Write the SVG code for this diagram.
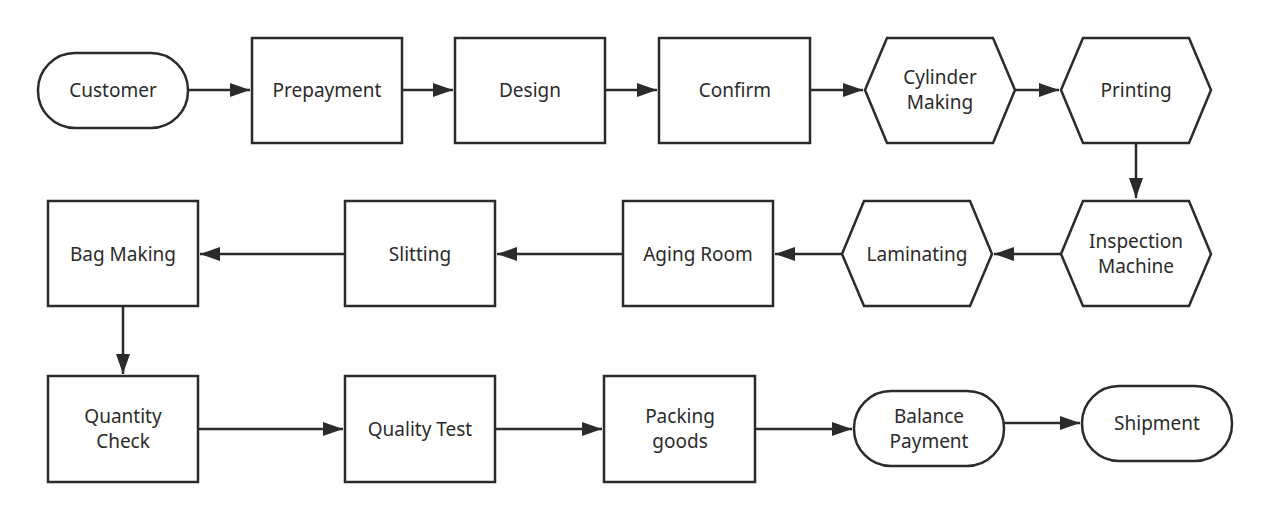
<svg xmlns="http://www.w3.org/2000/svg" width="1269" height="519" viewBox="0 0 1269 519">
<style>
.s{fill:#fff;stroke:#2b2b2b;stroke-width:2.5}
.t{font-family:"Noto Sans","Open Sans",sans-serif;font-size:19px;fill:#2b2b2b;text-anchor:middle}
.c{stroke:#2b2b2b;stroke-width:2.5;fill:none;marker-end:url(#a)}
</style>
<defs><marker id="a" viewBox="0 0 10 10" refX="10" refY="5" markerWidth="7" markerHeight="6" orient="auto" markerUnits="userSpaceOnUse" preserveAspectRatio="none"><path d="M0,0L10,5L0,10z" fill="#2b2b2b"/></marker></defs>
<rect width="1269" height="519" fill="#fff"/>
<g id="connectors">
<path class="c" d="M188,90H250" style="marker-end:url(#b)"/>
</g>
<defs><marker id="b" viewBox="0 0 20 14" refX="20" refY="7" markerWidth="20" markerHeight="14" orient="auto" markerUnits="userSpaceOnUse"><path d="M0,0L20,7L0,14z" fill="#2b2b2b"/></marker></defs>
<g id="conn" style="stroke:#2b2b2b;stroke-width:2.5;fill:none">
<path d="M402,90H453" marker-end="url(#b)"/>
<path d="M605,90H657" marker-end="url(#b)"/>
<path d="M810,90H863" marker-end="url(#b)"/>
<path d="M1015,90H1059" marker-end="url(#b)"/>
<path d="M1136,143V198" marker-end="url(#b)"/>
<path d="M1061,254H994" marker-end="url(#b)"/>
<path d="M842,254H775" marker-end="url(#b)"/>
<path d="M623,254H497" marker-end="url(#b)"/>
<path d="M345,254H200" marker-end="url(#b)"/>
<path d="M123,306V374" marker-end="url(#b)"/>
<path d="M198,429H343" marker-end="url(#b)"/>
<path d="M495,429H602" marker-end="url(#b)"/>
<path d="M755,429H852" marker-end="url(#b)"/>
<path d="M1004,423H1080" marker-end="url(#b)"/>
</g>
<g id="customer"><rect class="s" x="38" y="53" width="150" height="75" rx="37"/><text class="t" x="113" y="97">Customer</text></g>
<g id="prepayment"><rect class="s" x="252" y="38" width="150" height="105"/><text class="t" x="327" y="97">Prepayment</text></g>
<g id="design"><rect class="s" x="455" y="38" width="150" height="105"/><text class="t" x="530" y="97">Design</text></g>
<g id="confirm"><rect class="s" x="659" y="38" width="151" height="105"/><text class="t" x="735" y="97">Confirm</text></g>
<g id="cylinder"><polygon class="s" points="865,90 887,38 993,38 1015,90 993,143 887,143"/><text class="t" x="940" y="84">Cylinder</text><text class="t" x="940" y="109">Making</text></g>
<g id="printing"><polygon class="s" points="1061,90 1083,38 1189,38 1211,90 1189,143 1083,143"/><text class="t" x="1136" y="97">Printing</text></g>
<g id="inspection"><polygon class="s" points="1061,254 1083,201 1189,201 1211,254 1189,306 1083,306"/><text class="t" x="1136" y="248">Inspection</text><text class="t" x="1136" y="273">Machine</text></g>
<g id="laminating"><polygon class="s" points="842,254 864,201 970,201 992,254 970,306 864,306"/><text class="t" x="917" y="261">Laminating</text></g>
<g id="aging"><rect class="s" x="623" y="201" width="150" height="105"/><text class="t" x="698" y="261">Aging Room</text></g>
<g id="slitting"><rect class="s" x="345" y="201" width="150" height="105"/><text class="t" x="420" y="261">Slitting</text></g>
<g id="bagmaking"><rect class="s" x="48" y="201" width="150" height="105"/><text class="t" x="123" y="261">Bag Making</text></g>
<g id="quantity"><rect class="s" x="48" y="376" width="150" height="106"/><text class="t" x="123" y="423">Quantity</text><text class="t" x="123" y="448">Check</text></g>
<g id="quality"><rect class="s" x="345" y="376" width="150" height="106"/><text class="t" x="420" y="436">Quality Test</text></g>
<g id="packing"><rect class="s" x="604" y="376" width="151" height="106"/><text class="t" x="680" y="423">Packing</text><text class="t" x="680" y="448">goods</text></g>
<g id="balance"><rect class="s" x="854" y="391" width="150" height="75" rx="37"/><text class="t" x="929" y="423">Balance</text><text class="t" x="929" y="448">Payment</text></g>
<g id="shipment"><rect class="s" x="1082" y="386" width="150" height="75" rx="37"/><text class="t" x="1157" y="430">Shipment</text></g>
</svg>
